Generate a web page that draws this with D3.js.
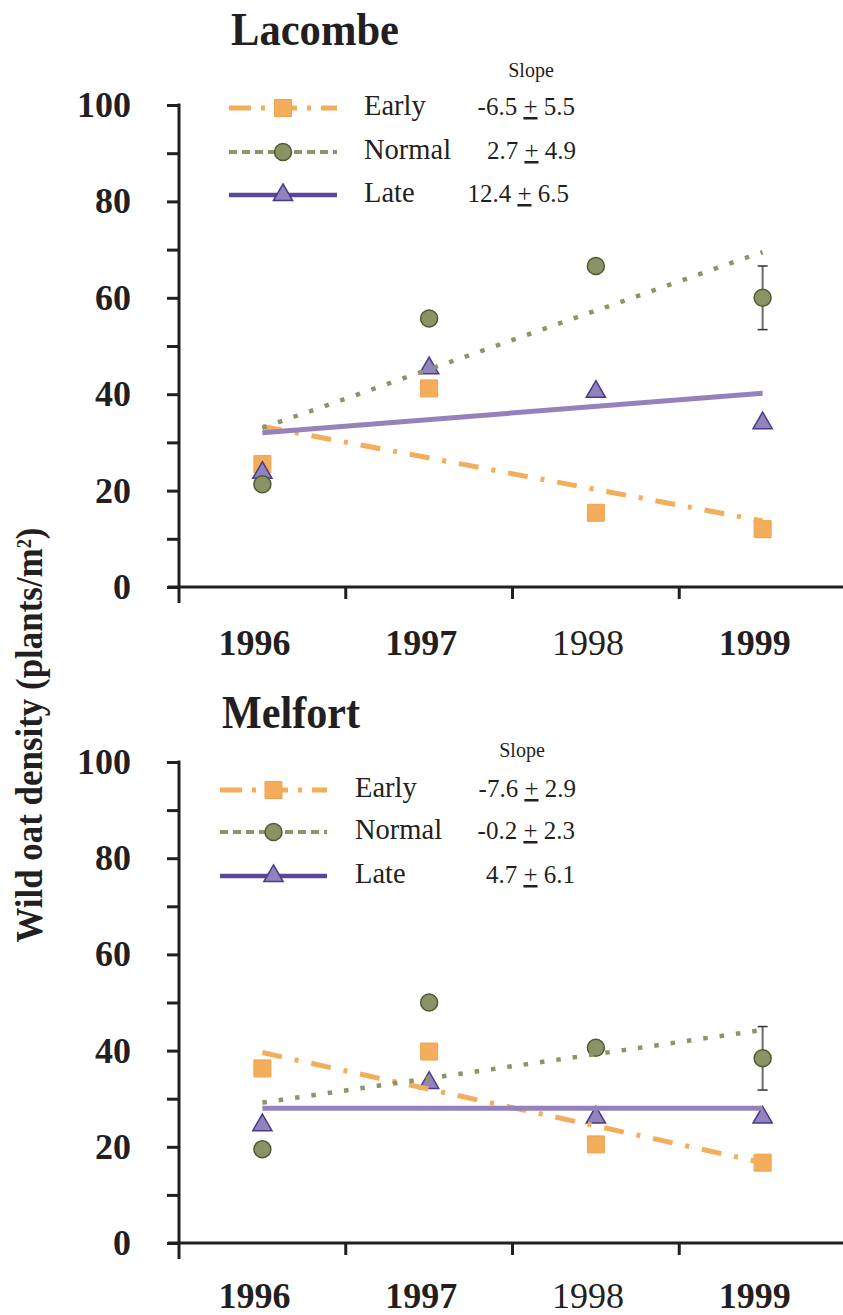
<!DOCTYPE html>
<html>
<head>
<meta charset="utf-8">
<script src="https://cdn.jsdelivr.net/npm/d3@7"></script>
<style>
  body { margin: 0; background: #fff; }
  svg { display: block; }
</style>
</head>
<body>
<div id="chart"></div>
<script>
// categories and ticks
var years = ["1996", "1997", "1998", "1999"];
var seriesNames = ["Early", "Normal", "Late"];
var yTicks = [0, 10, 20, 30, 40, 50, 60, 70, 80, 90, 100];

// Lacombe (plants/m2)
var lacEarly = [25.5, 41.2, 15.4, 12.0];
var lacNormal = [21.3, 55.7, 66.6, 60.0];
var lacLate = [23.7, 45.4, 40.5, 34.0];
var lacNormalErr = [null, null, null, 6.6];
var lacTrendEarly = [33.3, 13.7];   // fitted value at 1996, 1999
var lacTrendNormal = [33.0, 69.5];
var lacTrendLate = [32.0, 40.2];
var lacSlope = ["-6.5", "2.7", "12.4"];
var lacSlopeSe = ["5.5", "4.9", "6.5"];

// Melfort (plants/m2)
var melEarly = [36.3, 39.8, 20.5, 16.7];
var melNormal = [19.5, 50.0, 40.6, 38.4];
var melLate = [24.5, 33.3, 26.1, 26.1];
var melNormalErr = [null, null, null, 6.6];
var melTrendEarly = [39.6, 16.7];
var melTrendNormal = [29.2, 44.3];
var melTrendLate = [28.0, 28.0];
var melSlope = ["-7.6", "-0.2", "4.7"];
var melSlopeSe = ["2.9", "2.3", "6.1"];

var ink = "#231f20";
var serif = "'Liberation Serif', 'Times New Roman', serif";

// look of each series
var look = {
    Early:  { symbol: d3.symbolSquare, size: 289, fill: "#f3ad5b", stroke: "#eea250", sw: 1,
              line: "#f3ad5b", lw: 5, dash: "20,13,4,13", legLine: "#f3ad5b", legDash: "22,10,4,10", legW: 5 },
    Normal: { symbol: d3.symbolCircle, size: 227, fill: "#8a9366", stroke: "#4f5a30", sw: 1.5,
              line: "#8b9569", lw: 4.5, dash: "4.5,12", legLine: "#8b9569", legDash: "8,5", legW: 4 },
    Late:   { symbol: d3.symbolTriangle, size: 160, fill: "#9383bc", stroke: "#4a3a8a", sw: 1.5,
              line: "#9581bc", lw: 5, dash: null, legLine: "#5c4898", legDash: null, legW: 4.5 }
};

var svg = d3.select("#chart").append("svg")
    .attr("width", 843)
    .attr("height", 1315)
    .attr("font-family", serif);

function drawPanel(p) {
    var x = d3.scaleBand().domain(years).range([179, 846]);
    var y = d3.scaleLinear().domain([0, 100]).range([p.y0, p.y100]);
    var cx = function (yr) { return x(yr) + x.bandwidth() / 2; };
    var g = svg.append("g");

    // title
    g.append("text")
        .attr("x", p.titleX).attr("y", p.titleY)
        .attr("font-size", 46).attr("font-weight", "bold").attr("fill", ink)
        .attr("textLength", p.titleW).attr("lengthAdjust", "spacingAndGlyphs")
        .text(p.title);

    // y axis
    var yAxis = d3.axisLeft(y).tickValues(yTicks).tickSize(12).tickSizeOuter(0)
        .tickFormat(function (d) { return d % 20 === 0 ? d : ""; });
    var ya = g.append("g").attr("transform", "translate(179,0)").call(yAxis)
        .attr("font-family", serif).attr("font-size", 36).attr("font-weight", "bold");
    ya.select(".domain").remove();
    ya.selectAll(".tick line").attr("stroke", ink).attr("stroke-width", 3);
    ya.selectAll(".tick text").attr("x", -48).attr("fill", ink);
    g.append("line")
        .attr("x1", 179).attr("x2", 179)
        .attr("y1", y(100) - 1.5).attr("y2", p.y0 + 16)
        .attr("stroke", ink).attr("stroke-width", 3);

    // x axis, ticks between categories
    var xAxis = d3.axisBottom(x).tickSize(12).tickSizeOuter(0);
    var xa = g.append("g").attr("transform", "translate(0," + p.y0 + ")").call(xAxis)
        .attr("font-family", serif).attr("font-size", 36);
    xa.select(".domain").remove();
    xa.selectAll(".tick line")
        .attr("x1", x.step() / 2).attr("x2", x.step() / 2)
        .attr("stroke", ink).attr("stroke-width", 3);
    xa.selectAll(".tick text")
        .attr("x", -8).attr("y", p.yearY - p.y0).attr("dy", 0)
        .attr("fill", ink)
        .attr("font-weight", function (d) { return d === "1998" ? "normal" : "bold"; });
    g.append("line")
        .attr("x1", 168).attr("x2", 846)
        .attr("y1", p.y0).attr("y2", p.y0)
        .attr("stroke", ink).attr("stroke-width", 3);

    // error bars
    var eb = g.append("g");
    p.err.forEach(function (e, i) {
        if (e == null) return;
        var v = p.series.Normal[i], xx = cx(years[i]);
        eb.append("line").attr("x1", xx).attr("x2", xx)
            .attr("y1", y(v + e)).attr("y2", y(v - e))
            .attr("stroke", "#6b6b6b").attr("stroke-width", 2);
        [v + e, v - e].forEach(function (w) {
            eb.append("line").attr("x1", xx - 5).attr("x2", xx + 5)
                .attr("y1", y(w)).attr("y2", y(w))
                .attr("stroke", "#333").attr("stroke-width", 1.5);
        });
    });

    // markers
    ["Early", "Late", "Normal"].forEach(function (s) {
        var L = look[s];
        g.append("g").selectAll("path")
            .data(p.series[s])
            .enter().append("path")
            .attr("d", d3.symbol().type(L.symbol).size(L.size))
            .attr("transform", function (d, i) {
                return "translate(" + cx(years[i]) + "," + y(d) + ")";
            })
            .attr("fill", L.fill).attr("stroke", L.stroke).attr("stroke-width", L.sw);
    });

    // trend lines
    var line = d3.line()
        .x(function (d) { return cx(d[0]); })
        .y(function (d) { return y(d[1]); });
    seriesNames.forEach(function (s) {
        var L = look[s], t = p.trend[s];
        g.append("path")
            .attr("d", line([[years[0], t[0]], [years[3], t[1]]]))
            .attr("fill", "none")
            .attr("stroke", L.line).attr("stroke-width", L.lw)
            .attr("stroke-dasharray", L.dash);
    });

    // legend
    var lg = g.append("g");
    lg.append("text")
        .attr("x", p.slopeHeadX).attr("y", p.slopeHeadY)
        .attr("text-anchor", "middle")
        .attr("font-size", 20).attr("fill", ink)
        .text("Slope");
    seriesNames.forEach(function (s, i) {
        var L = look[s], ly = p.legRows[i];
        lg.append("line")
            .attr("x1", p.legX0).attr("x2", p.legX1)
            .attr("y1", ly).attr("y2", ly)
            .attr("stroke", L.legLine).attr("stroke-width", L.legW)
            .attr("stroke-dasharray", L.legDash);
        lg.append("path")
            .attr("d", d3.symbol().type(L.symbol).size(L.size))
            .attr("transform", "translate(" + (p.legX0 + p.legX1) / 2 + "," + ly + ")")
            .attr("fill", L.fill).attr("stroke", L.stroke).attr("stroke-width", L.sw);
        lg.append("text")
            .attr("x", p.legTextX).attr("y", ly + 7)
            .attr("font-size", 28.5).attr("fill", ink)
            .text(s);
        var st = lg.append("text")
            .attr("x", p.slopeRight[i]).attr("y", ly + 7)
            .attr("text-anchor", "end")
            .attr("font-size", 25).attr("fill", ink)
            .style("white-space", "pre");
        st.append("tspan").text(p.slope[i] + " ");
        st.append("tspan").attr("text-decoration", "underline").text("+");
        st.append("tspan").text(" " + p.slopeSe[i]);
    });
}

drawPanel({
    title: "Lacombe", titleX: 231, titleY: 45, titleW: 168,
    y0: 587, y100: 105, yearY: 655,
    series: { Early: lacEarly, Normal: lacNormal, Late: lacLate },
    err: lacNormalErr,
    trend: { Early: lacTrendEarly, Normal: lacTrendNormal, Late: lacTrendLate },
    slope: lacSlope, slopeSe: lacSlopeSe,
    legRows: [108, 152, 195], legX0: 229, legX1: 337, legTextX: 364,
    slopeHeadX: 531, slopeHeadY: 77, slopeRight: [575, 576, 569]
});

drawPanel({
    title: "Melfort", titleX: 222, titleY: 728, titleW: 138,
    y0: 1243, y100: 762, yearY: 1308,
    series: { Early: melEarly, Normal: melNormal, Late: melLate },
    err: melNormalErr,
    trend: { Early: melTrendEarly, Normal: melTrendNormal, Late: melTrendLate },
    slope: melSlope, slopeSe: melSlopeSe,
    legRows: [790, 832, 876], legX0: 220, legX1: 327, legTextX: 355,
    slopeHeadX: 522, slopeHeadY: 757, slopeRight: [576, 575, 575]
});

// shared y label
var yl = svg.append("text")
    .attr("transform", "translate(42,735) rotate(-90)")
    .attr("text-anchor", "middle")
    .attr("font-size", 38).attr("font-weight", "bold").attr("fill", ink)
    .attr("textLength", 415).attr("lengthAdjust", "spacingAndGlyphs");
yl.append("tspan").text("Wild oat density (plants/m");
yl.append("tspan").attr("baseline-shift", "super").attr("font-size", 20).text("2");
yl.append("tspan").text(")");
</script>
</body>
</html>
